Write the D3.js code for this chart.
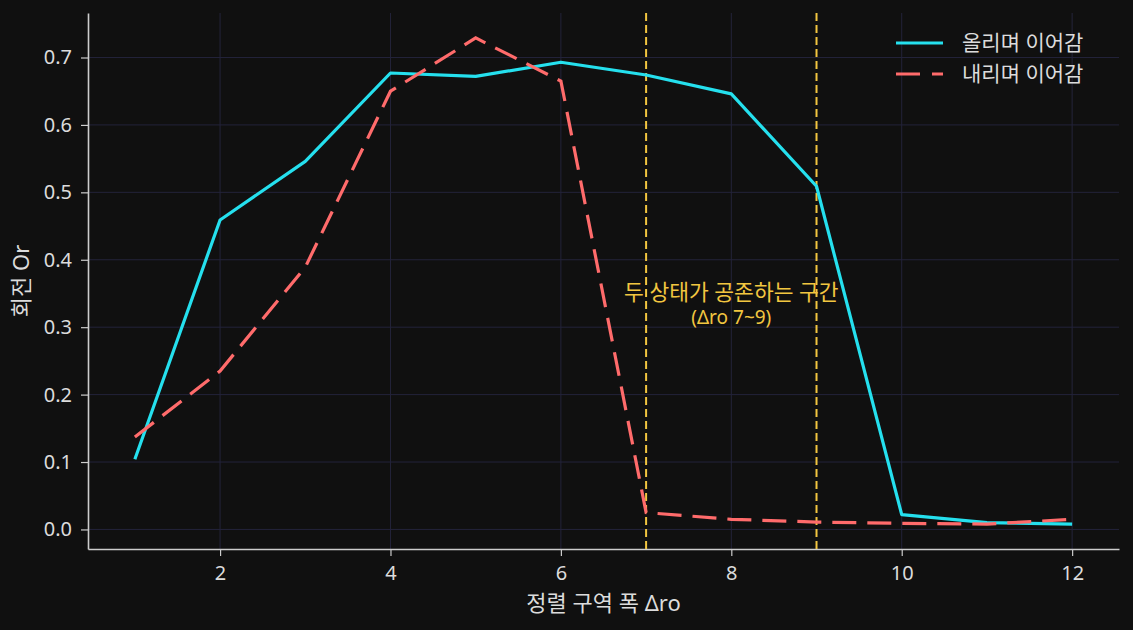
<!DOCTYPE html>
<html>
<head>
<meta charset="utf-8">
<script src="https://cdn.jsdelivr.net/npm/d3@7"></script>
<style>
  html, body { margin: 0; padding: 0; background: #101010; }
  svg { display: block; }
  text { font-family: "Noto Sans", "Noto Sans CJK KR", sans-serif; fill: #dcdcdc; }
</style>
</head>
<body>
<div id="chart"></div>
<script>
////////////////////////////////////////////////////////////
//////////////////////// Data //////////////////////////////
////////////////////////////////////////////////////////////

var dro = [1, 2, 3, 4, 5, 6, 7, 8, 9, 10, 11, 12];
var upOr = [0.104, 0.459, 0.546, 0.677, 0.672, 0.693, 0.674, 0.646, 0.509, 0.022, 0.010, 0.008];
var downOr = [0.137, 0.235, 0.389, 0.650, 0.729, 0.665, 0.025, 0.015, 0.011, 0.009, 0.008, 0.015];
var xTicks = [2, 4, 6, 8, 10, 12];
var yTicks = [0.0, 0.1, 0.2, 0.3, 0.4, 0.5, 0.6, 0.7];
var bandEdges = [7, 9];
var seriesNames = ["올리며 이어감", "내리며 이어감"];

////////////////////////////////////////////////////////////
//////////////////////// Set-Up ////////////////////////////
////////////////////////////////////////////////////////////

var width = 1133, height = 630;
var margin = {left: 88, top: 13, right: 14, bottom: 81};

var cyan = "#25e0ee", salmon = "#ff6b6b", gold = "#f2c640";

var svg = d3.select("#chart").append("svg")
  .attr("width", width)
  .attr("height", height);

svg.append("rect").attr("width", width).attr("height", height).attr("fill", "#101010");

var x = d3.scaleLinear()
  .domain([0.45, 12.55])
  .range([margin.left, width - margin.right]);

var y = d3.scaleLinear()
  .domain([-0.029, 0.766])
  .range([height - margin.bottom, margin.top]);

////////////////////////////////////////////////////////////
//////////////////////// Grid //////////////////////////////
////////////////////////////////////////////////////////////

var grid = svg.append("g").attr("class", "grid");
grid.selectAll("line.gx")
  .data(xTicks)
  .enter().append("line")
  .attr("x1", function(d){ return x(d); })
  .attr("x2", function(d){ return x(d); })
  .attr("y1", y.range()[0])
  .attr("y2", y.range()[1])
  .attr("stroke", "#23233a")
  .attr("stroke-width", 1);
grid.selectAll("line.gy")
  .data(yTicks)
  .enter().append("line")
  .attr("x1", x.range()[0])
  .attr("x2", x.range()[1])
  .attr("y1", function(d){ return y(d); })
  .attr("y2", function(d){ return y(d); })
  .attr("stroke", "#23233a")
  .attr("stroke-width", 1);

////////////////////////////////////////////////////////////
//////////////////////// Axes //////////////////////////////
////////////////////////////////////////////////////////////

var xAxis = svg.append("g")
  .attr("transform", "translate(0," + y.range()[0] + ")")
  .call(d3.axisBottom(x).tickValues(xTicks).tickFormat(d3.format("d")).tickSize(7).tickPadding(10).tickSizeOuter(0));

var yAxis = svg.append("g")
  .attr("transform", "translate(" + x.range()[0] + ",0)")
  .call(d3.axisLeft(y).tickValues(yTicks).tickFormat(d3.format(".1f")).tickSize(7).tickPadding(9).tickSizeOuter(0));

[xAxis, yAxis].forEach(function(a){
  a.attr("font-family", null).attr("font-size", null);
  a.select(".domain").attr("stroke", "#cccccc").attr("stroke-width", 1.6);
  a.selectAll(".tick line").attr("stroke", "#cccccc").attr("stroke-width", 1.2);
  a.selectAll(".tick text").attr("fill", "#dcdcdc").style("font-size", "20px");
});

svg.append("text")
  .attr("x", (x.range()[0] + x.range()[1]) / 2)
  .attr("y", 611)
  .attr("text-anchor", "middle")
  .style("font-size", "22px")
  .text("정렬 구역 폭 Δro");

svg.append("text")
  .attr("transform", "translate(29," + ((y.range()[0] + y.range()[1]) / 2) + ") rotate(-90)")
  .attr("text-anchor", "middle")
  .style("font-size", "22px")
  .text("회전 Or");

////////////////////////////////////////////////////////////
////////////////// Coexistence band ////////////////////////
////////////////////////////////////////////////////////////

svg.selectAll("line.band")
  .data(bandEdges)
  .enter().append("line")
  .attr("x1", function(d){ return x(d); })
  .attr("x2", function(d){ return x(d); })
  .attr("y1", y.range()[0])
  .attr("y2", y.range()[1])
  .attr("stroke", gold)
  .attr("stroke-width", 2)
  .attr("stroke-dasharray", "8,4");

var midBand = d3.mean(bandEdges);
svg.append("text")
  .attr("x", x(midBand))
  .attr("y", y(0.341))
  .attr("text-anchor", "middle")
  .style("font-size", "21.5px")
  .style("fill", gold)
  .text("두 상태가 공존하는 구간");
svg.append("text")
  .attr("x", x(midBand))
  .attr("y", y(0.304))
  .attr("text-anchor", "middle")
  .style("font-size", "19px")
  .style("fill", gold)
  .text("(Δro " + bandEdges[0] + "~" + bandEdges[1] + ")");

////////////////////////////////////////////////////////////
//////////////////////// Lines /////////////////////////////
////////////////////////////////////////////////////////////

var line = d3.line()
  .x(function(d){ return x(d[0]); })
  .y(function(d){ return y(d[1]); });

svg.append("path")
  .datum(d3.zip(dro, upOr))
  .attr("d", line)
  .attr("fill", "none")
  .attr("stroke", cyan)
  .attr("stroke-width", 3.2)
  .attr("stroke-linejoin", "round");

svg.append("path")
  .datum(d3.zip(dro, downOr))
  .attr("d", line)
  .attr("fill", "none")
  .attr("stroke", salmon)
  .attr("stroke-width", 3.2)
  .attr("stroke-dasharray", "24,11");

////////////////////////////////////////////////////////////
//////////////////////// Legend ////////////////////////////
////////////////////////////////////////////////////////////

var legend = svg.append("g").attr("transform", "translate(896,43)");
var legendRows = legend.selectAll("g")
  .data(seriesNames)
  .enter().append("g")
  .attr("transform", function(d, i){ return "translate(0," + (i * 31) + ")"; });

legendRows.append("line")
  .attr("x1", 0).attr("x2", 47)
  .attr("stroke", function(d, i){ return i === 0 ? cyan : salmon; })
  .attr("stroke-width", 3.2)
  .attr("stroke-dasharray", function(d, i){ return i === 0 ? null : "24,12"; });

legendRows.append("text")
  .attr("x", 66)
  .attr("dy", "0.35em")
  .style("font-size", "21px")
  .text(function(d){ return d; });
</script>
</body>
</html>
